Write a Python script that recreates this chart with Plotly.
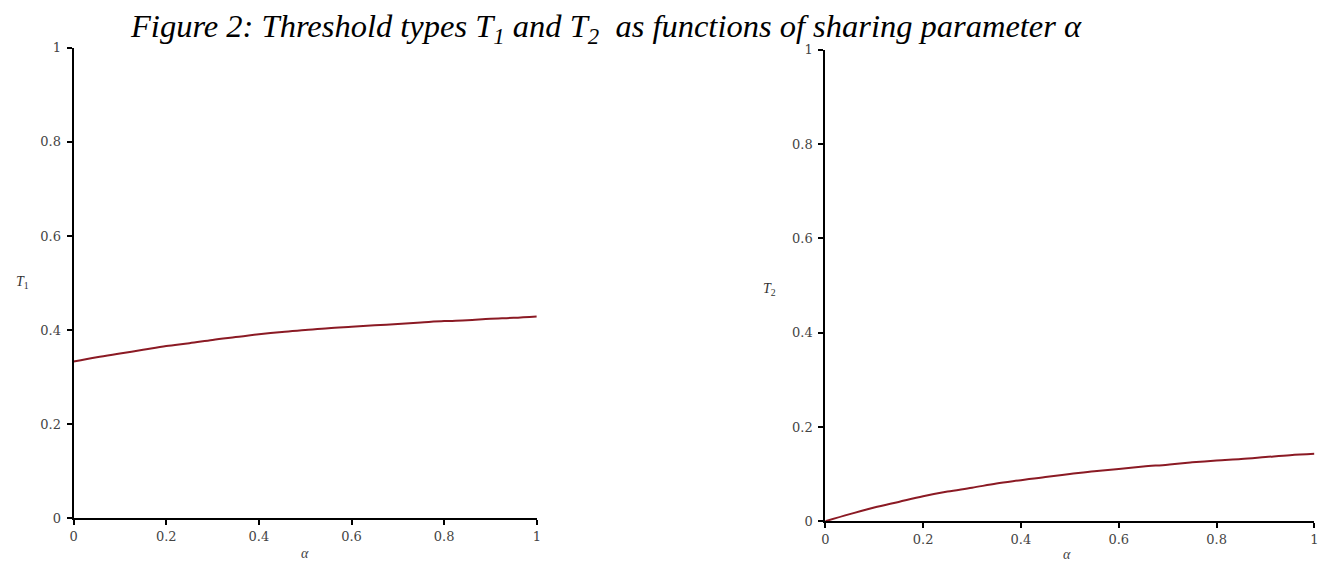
import plotly.graph_objects as go

# Data
alpha = [0.0, 0.05, 0.1, 0.15, 0.2, 0.25, 0.3, 0.35, 0.4, 0.45, 0.5,
         0.55, 0.6, 0.65, 0.7, 0.75, 0.8, 0.85, 0.9, 0.95, 1.0]
T1 = [0.333, 0.342, 0.350, 0.358, 0.366, 0.372, 0.379, 0.385, 0.391, 0.396, 0.400,
      0.404, 0.407, 0.410, 0.413, 0.416, 0.419, 0.421, 0.424, 0.426, 0.429]
T2 = [0.000, 0.015, 0.029, 0.041, 0.053, 0.063, 0.071, 0.080, 0.087, 0.094, 0.100,
      0.106, 0.111, 0.116, 0.120, 0.125, 0.129, 0.132, 0.136, 0.140, 0.143]
x_ticks = [0, 0.2, 0.4, 0.6, 0.8, 1]
x_ticklabels = ["0", "0.2", "0.4", "0.6", "0.8", "1"]
y_ticks = [0, 0.2, 0.4, 0.6, 0.8, 1]
y_ticklabels = ["0", "0.2", "0.4", "0.6", "0.8", "1"]

W, H = 1327, 564
LINE = "#8b1a24"
SERIF = "Liberation Serif, Times New Roman, serif"
TICKFONT = "DejaVu Serif, serif"

# calibration of layout pixels to rendered pixels
AX, BX = 0.9957, 10.3
AY, BY = 0.9745, 15.2


def px_x(P):
    return ((P - BX) / AX) / W


def px_y(P):
    return 1 - ((P - BY) / AY) / H


fig = go.Figure()
fig.add_trace(go.Scatter(x=alpha, y=T1, mode="lines", line=dict(color=LINE, width=2, shape="spline"),
                         xaxis="x", yaxis="y", showlegend=False))
fig.add_trace(go.Scatter(x=alpha, y=T2, mode="lines", line=dict(color=LINE, width=2, shape="spline"),
                         xaxis="x2", yaxis="y2", showlegend=False))

axis_common = dict(range=[0, 1], showline=True, linecolor="black", linewidth=2,
                   ticks="outside", ticklen=5, tickwidth=1.5, tickcolor="black",
                   showgrid=False, zeroline=False,
                   tickfont=dict(family=TICKFONT, size=13, color="#444"))

fig.update_layout(
    width=W, height=H,
    margin=dict(l=0, r=0, t=0, b=0),
    paper_bgcolor="white", plot_bgcolor="white",
    xaxis=dict(domain=[px_x(72), px_x(536)], anchor="y",
               tickvals=x_ticks, ticktext=x_ticklabels, **axis_common),
    yaxis=dict(domain=[px_y(519), px_y(48)], anchor="x", ticklabelstandoff=3,
               tickvals=y_ticks, ticktext=y_ticklabels, **axis_common),
    xaxis2=dict(domain=[px_x(825), px_x(1315)], anchor="y2",
                tickvals=x_ticks, ticktext=x_ticklabels, **axis_common),
    yaxis2=dict(domain=[px_y(522), px_y(50)], anchor="x2", ticklabelstandoff=3,
                tickvals=y_ticks, ticktext=y_ticklabels, **axis_common),
)

annotations = [
    dict(x=px_x(605), y=px_y(29), xref="paper", yref="paper",
         text="<i>Figure 2: Threshold types T<sub>1</sub> and T<sub>2</sub>  as functions of sharing parameter α</i>",
         showarrow=False, font=dict(family=SERIF, size=32.5, color="black"),
         xanchor="center", yanchor="middle"),
    dict(x=px_x(21), y=px_y(283), xref="paper", yref="paper",
         text="<i>T</i><sub>1</sub>", showarrow=False,
         font=dict(family=SERIF, size=14, color="#333"), xanchor="center", yanchor="middle"),
    dict(x=px_x(769), y=px_y(290), xref="paper", yref="paper",
         text="<i>T</i><sub>2</sub>", showarrow=False,
         font=dict(family=SERIF, size=14, color="#333"), xanchor="center", yanchor="middle"),
    dict(x=px_x(304), y=px_y(564), xref="paper", yref="paper",
         text="<i>α</i>", showarrow=False,
         font=dict(family=SERIF, size=14, color="#444"), xanchor="center", yanchor="bottom"),
    dict(x=px_x(1067), y=px_y(565), xref="paper", yref="paper",
         text="<i>α</i>", showarrow=False,
         font=dict(family=SERIF, size=14, color="#444"), xanchor="center", yanchor="bottom"),
]
fig.update_layout(annotations=annotations)

fig.write_html("out.html")
